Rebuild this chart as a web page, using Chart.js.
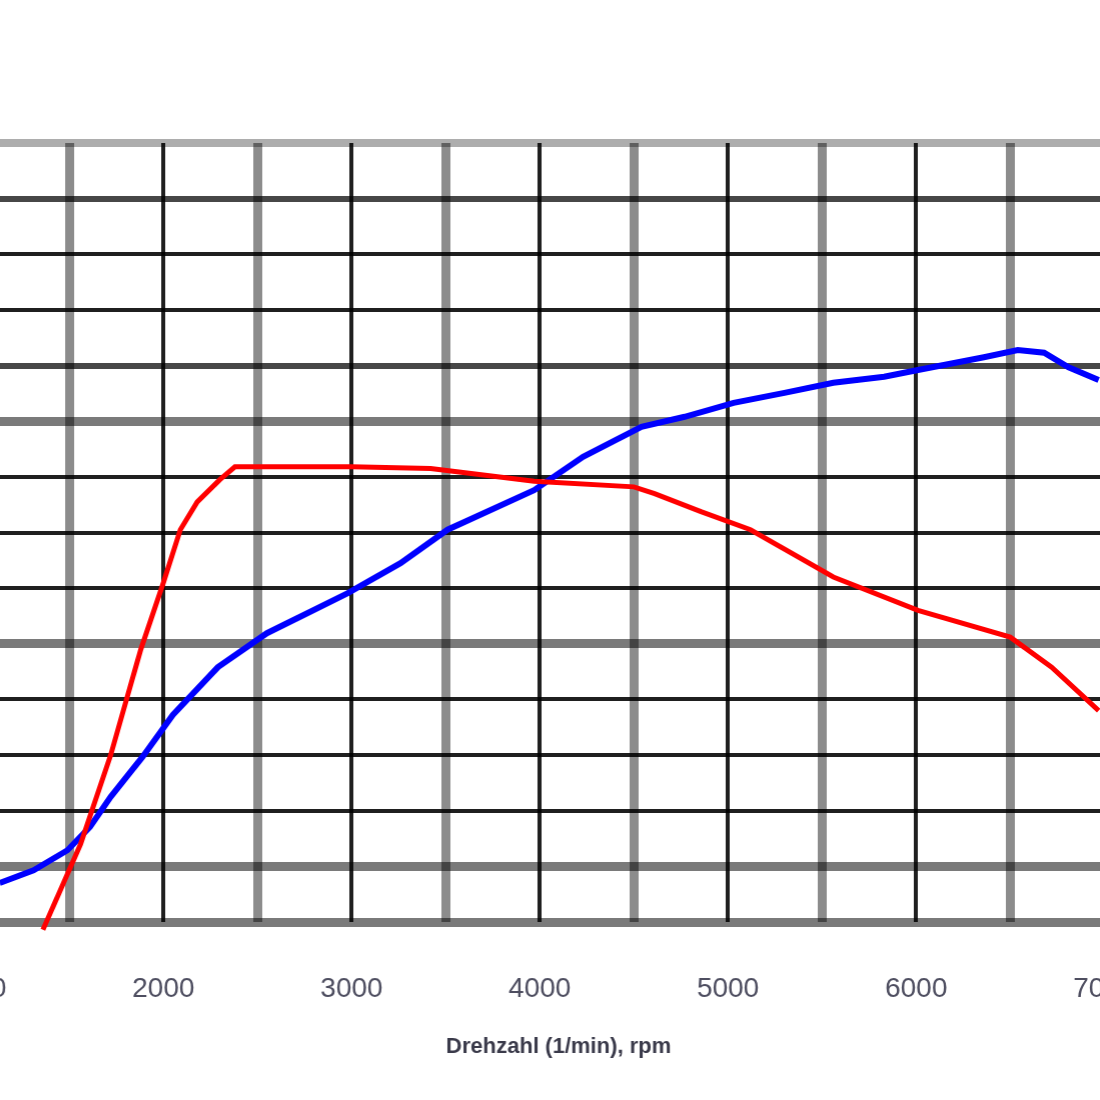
<!DOCTYPE html>
<html>
<head>
<meta charset="utf-8">
<script src="https://cdn.jsdelivr.net/npm/chart.js@4.4.1/dist/chart.umd.min.js"></script>
<style>
  html, body { margin: 0; padding: 0; background: #fff; overflow: hidden; width: 1100px; height: 1100px; }
  #wrap { position: absolute; left: -85px; top: 0; width: 1226px; height: 1100px; }
</style>
</head>
<body>
<div id="wrap"><canvas id="dyno"></canvas></div>
<script>
const torqueRpm = [1360, 1560, 1720, 1880, 2000, 2090, 2180, 2300, 2380, 3000, 3420, 3970, 4500, 4610, 4860, 5120, 5560, 6010, 6500, 6720, 6970];
const torqueVal = [-1.4, 14, 30, 49, 61, 70.5, 75.5, 79.5, 81.8, 81.8, 81.5, 79.2, 78.2, 77, 73.7, 70.5, 62, 56, 51.2, 45.8, 38];

const powerRpm = [1130, 1310, 1490, 1610, 1720, 1890, 2050, 2290, 2550, 2980, 3260, 3510, 3970, 4230, 4540, 4770, 5030, 5300, 5560, 5830, 6010, 6360, 6540, 6680, 6810, 6970];
const powerVal = [7, 9.3, 12.9, 17.1, 22.5, 29.7, 37.2, 45.8, 51.9, 59.1, 64.5, 70.5, 77.6, 83.6, 89, 90.8, 93.3, 95.1, 96.9, 98, 99.2, 101.5, 102.8, 102.3, 99.7, 97.4];

const xTicks = [1000, 1500, 2000, 2500, 3000, 3500, 4000, 4500, 5000, 5500, 6000, 6500, 7000];
const xTitle = 'Drehzahl (1/min), rpm';

// — frame: the source is a crop, the 1000 rpm line sits just off the left edge —
const X_MIN = 1000, X_MAX = 7200;
const PX_PER_RPM = 0.188;
const PLOT_LEFT = -25;

// grid look (the source image is blurred, lines differ in weight)
const LINE = {
  k: { c: 'rgba(0,0,0,0.88)', w: 4 },
  d: { c: 'rgba(0,0,0,0.72)', w: 6 },
  g: { c: 'rgba(0,0,0,0.52)', w: 9 },
  l: { c: 'rgba(0,0,0,0.32)', w: 8 },
};
const yGridKinds = ['g', 'g', 'k', 'k', 'k', 'g', 'k', 'k', 'k', 'g', 'd', 'k', 'k', 'd', 'l'];

const toPts = (xs, ys) => xs.map((x, i) => ({ x, y: ys[i] }));
const xKind = v => (v % 1000 === 0 ? LINE.k : { c: 'rgba(0,0,0,0.45)', w: 9 });
const yKind = i => LINE[yGridKinds[i] || 'k'];

const chart = new Chart(document.getElementById('dyno'), {
  type: 'line',
  data: {
    datasets: [
      { label: 'Torque', data: toPts(torqueRpm, torqueVal), borderColor: '#ff0000', borderWidth: 5, pointRadius: 0, tension: 0, clip: 12 },
      { label: 'Power',  data: toPts(powerRpm, powerVal),   borderColor: '#0000ff', borderWidth: 6, pointRadius: 0, tension: 0 },
    ],
  },
  options: {
    responsive: true, maintainAspectRatio: false, animation: false,
    layout: { padding: { top: 143, right: 0, bottom: 0, left: 0 } },
    plugins: { legend: { display: false }, tooltip: { enabled: false } },
    scales: {
      x: {
        type: 'linear', min: X_MIN, max: X_MAX,
        border: { display: false },
        grid: {
          drawTicks: false,
          color: c => xKind(c.tick.value).c,
          lineWidth: c => xKind(c.tick.value).w,
        },
        ticks: {
          autoSkip: false, maxRotation: 0, padding: 50,
          color: '#4e4e60', font: { family: 'Liberation Sans', size: 28 },
          callback: v => (v % 1000 === 0 ? String(v) : ''),
        },
        afterBuildTicks: s => { s.ticks = xTicks.map(v => ({ value: v })); },
        title: {
          display: true, text: xTitle, color: '#3a3a4a',
          font: { family: 'Liberation Sans', size: 22, weight: 'bold' },
          padding: { top: 0, bottom: 40 },
        },
        afterFit: s => { s.height = 178; },
      },
      y: {
        min: 0, max: 140,
        border: { display: false },
        grid: {
          drawTicks: false,
          color: c => yKind(c.index).c,
          lineWidth: c => yKind(c.index).w,
        },
        ticks: { stepSize: 10, display: false },
        afterFit: s => { s.width = 60; },
      },
    },
  },
});

// size the canvas so the x scale matches the source's px per rpm
function fitFrame() {
  const wrap = document.getElementById('wrap');
  const xs = chart.scales.x;
  const want = PX_PER_RPM * (X_MAX - X_MIN);
  wrap.style.width = (wrap.offsetWidth + want - (xs.right - xs.left)) + 'px';
  chart.resize();
  wrap.style.left = (PLOT_LEFT - chart.scales.x.left) + 'px';
}
fitFrame();
fitFrame();
</script>
</body>
</html>
